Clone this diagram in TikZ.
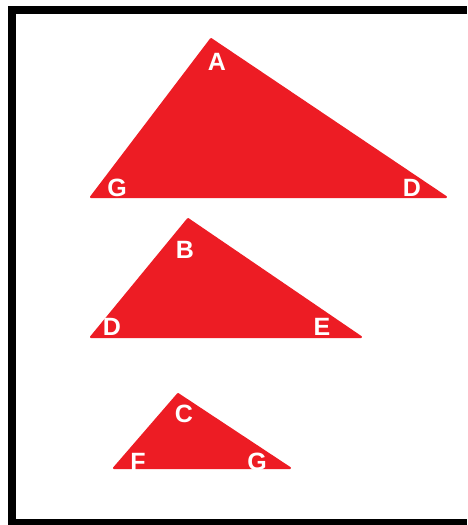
\documentclass[tikz,border=0pt]{standalone}
\usepackage{fontspec}
\setmainfont{Liberation Sans}
\definecolor{trired}{HTML}{ED1C24}
\tikzset{
  tri/.style={fill=trired,draw=trired,line width=2pt,line join=round},
  lab/.style={text=white,font=\fontsize{25}{25}\selectfont\bfseries,inner sep=0pt}
}
\begin{document}
\begin{tikzpicture}[x=1pt,y=-1pt,line cap=round]

\useasboundingbox[fill=white] (0,0) rectangle (467,525);

% frame (open on the right)
\fill (8,6) rectangle (467,14);
\fill (8,6) rectangle (16,525);
\fill (8,519) rectangle (467,525);

% big triangle
\coordinate (A) at (211,39);
\coordinate (G1) at (91,197);
\coordinate (D1) at (446,197);
\fill[tri] (A) -- (G1) -- (D1) -- cycle;

% middle triangle
\coordinate (B) at (188,219);
\coordinate (D2) at (91,337);
\coordinate (E) at (361,337);
\fill[tri] (B) -- (D2) -- (E) -- cycle;

% small triangle
\coordinate (C) at (178,394);
\coordinate (F) at (114,468);
\coordinate (G2) at (290,468);
\fill[tri] (C) -- (F) -- (G2) -- cycle;

% vertex labels
\node[lab] (la) at (217,62) {A};
\node[lab] (lg1) at (117,188) {G};
\node[lab] (ld1) at (412,188) {D};
\node[lab] (lb) at (185,250) {B};
\node[lab] (ld2) at (112,327) {D};
\node[lab] (le) at (322,327) {E};
\node[lab] (lc) at (184,414) {C};
\node[lab] (lf) at (138,462) {F};
\node[lab] (lg2) at (257,462) {G};

\end{tikzpicture}
\end{document}
